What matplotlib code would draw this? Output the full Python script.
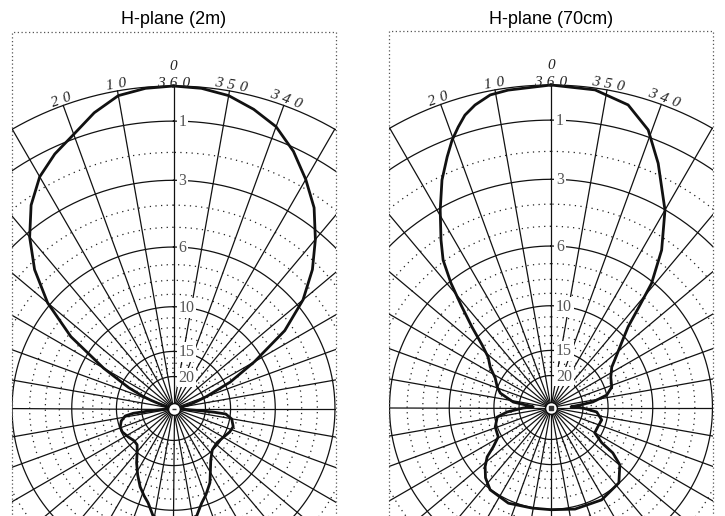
import numpy as np
import matplotlib
matplotlib.use("Agg")
import matplotlib.pyplot as plt
from matplotlib.patches import Rectangle

# H-plane patterns: angle (deg, counter-clockwise from 0) and level (dB)
ang_2m = [0, 5, 10, 15, 20, 25, 30, 35, 40, 45, 50, 55, 60, 65, 68, 70, 72, 76, 88,
          93, 95.2, 96, 96.8, 98.8, 103.4, 109.1, 114.5, 122.1, 129.4, 135, 140, 145.8,
          151.6, 156.9, 161.4, 164.9, 169.2, 180, 192.2, 196.6, 200.6, 206.1, 210.2, 216,
          223.2, 231.6, 240.6, 247.4, 253.1, 259.8, 264, 264.8, 265.2, 265.5, 267, 272,
          280, 283, 285, 288, 290, 295, 300, 305, 310, 315, 320, 325, 330, 335, 340, 345,
          350, 355, 360]
db_2m = [0, -0.03, -0.13, -0.45, -0.87, -1.2, -1.62, -2.27, -3.17, -4.3, -5.85, -8.2,
         -12.0, -16.2, -19.5, -22.5, -27.0, -34.0, -40.0,
         -35.0, -25.8, -21.0, -17.96, -16.35, -15.53, -15.11, -15.11, -15.57, -15.99,
         -15.9, -15.09, -13.79, -12.6, -11.55, -10.86, -10.36, -9.39, -8.6, -9.34, -10.27,
         -10.86, -11.79, -12.84, -14.09, -15.06, -15.28, -14.9, -14.44, -14.23, -14.69,
         -15.72, -18.0, -21.0, -25.8, -34.0, -40.0,
         -34.0, -27.0, -24.4, -21.3, -19.2, -14.2, -10.75, -7.5, -5.6, -4.3, -3.29, -2.38,
         -1.72, -1.11, -0.63, -0.35, -0.13, -0.03, 0]

ang_70 = [0, 7.7, 11, 14.1, 16.4, 18.3, 20.3, 22.5, 25.6, 29.3, 33.3, 36.2, 38.8, 41.3,
          44.5, 47.8, 51.3, 56.4, 62.2, 69.2, 74.1, 81.8, 85.9, 88, 91, 95.8, 100, 109.2,
          119.1, 124.3, 127.7, 131.9, 137, 143.5, 156, 169.2, 180, 193.3, 208.7, 222,
          230.2, 233.7, 235.2, 239.9, 247.5, 256.2, 264.4, 269.1, 272, 274.9, 277.5, 282.6,
          288.6, 296.9, 303.6, 307.8, 312.7, 316.3, 319, 321, 324.9, 330, 336.3, 340.7,
          345.7, 352.1, 360]
db_70 = [0, -0.06, -0.11, -0.29, -0.49, -0.76, -1.07, -1.5, -2.13, -3.07, -4.13, -4.93,
         -6.1, -7.47, -9.12, -10.79, -12.03, -12.88, -14.14, -14.94, -15.68, -18.49, -23.7,
         -25.0, -21.2, -17.25, -15.39, -14.71, -14.51, -13.25, -12.01, -11.21, -10.5, -9.95,
         -9.75, -9.95, -9.96, -9.78, -9.7, -10.03, -11.1, -12.45, -14.3, -16.05, -16.04,
         -15.77, -16.88, -20.07, -24.0, -20.9, -17.63, -14.99, -14.0, -13.61, -12.88,
         -11.86, -10.47, -9.2, -7.52, -6.09, -4.48, -3.01, -1.65, -0.8, -0.28, -0.05, 0]

titles = ["H-plane (2m)", "H-plane (70cm)"]
solid_rings = [0, -1, -3, -6, -10, -15, -20]
dotted_rings = [-2, -4, -5, -7, -8, -9, -11, -12, -13, -14, -16, -17, -18, -19]
ring_labels = ["1", "3", "6", "10", "15", "20"]
spoke_angles = [0, 10, 20, 350, 340]
spoke_texts = ["360", "10", "20", "350", "340"]

W, H = 725, 516
R = 322.5          # pixel radius of the 0 dB ring
RMIN = -60
GAP = "\u2004"     # letter spacing used on the rim labels

fig = plt.figure(figsize=(W / 100, H / 100), dpi=100)


def to_v(db):
    return 10 ** (np.asarray(db, dtype=float) / 20.0)


def from_v(v):
    return 20 * np.log10(np.clip(np.asarray(v, dtype=float), 1e-9, None))


def px_db(px):
    # level just outside the 0 dB ring, px pixels away
    return 20 * np.log10(1 + px / R)


def panel(cx, cy, box, ang, db, title, dot):
    ax = fig.add_axes([(cx - R) / W, (H - cy - R) / H, 2 * R / W, 2 * R / H],
                      projection="polar")
    ax.set_theta_zero_location("N")
    ax.set_theta_direction(1)
    ax.set_rscale("function", functions=(to_v, from_v))
    ax.set_rlim(RMIN, 0)
    ax.axis("off")

    clip = Rectangle((box[0] / W, -0.1), (box[1] - box[0]) / W, (H - box[2]) / H + 0.1,
                     transform=fig.transFigure)
    arts = []
    th = np.linspace(0, 2 * np.pi, 721)
    for lv in solid_rings:
        arts += ax.plot(th, np.full_like(th, lv), color="#111111", lw=0.9)
    for lv in dotted_rings:
        arts += ax.plot(th, np.full_like(th, lv), color="#222222", lw=0.9,
                        ls=(0, (1, 3.5)))
    for a in range(0, 360, 10):
        arts += ax.plot([np.deg2rad(a)] * 2, [RMIN, 0], color="#111111", lw=0.9)

    arts += ax.plot(np.deg2rad(ang), db, color="#111111", lw=2.0, zorder=3,
                    solid_joinstyle="round")
    for a in arts:
        a.set_clip_path(clip)

    # centre hub
    ax.plot([0], [RMIN], marker="o", ms=8.5, mfc="white", mec="#111111", mew=1.0,
            zorder=5, clip_on=False)
    ax.plot([0], [RMIN], marker=dot, ms=2.5, mfc="#333333", mec="#333333", mew=1.0,
            zorder=6, clip_on=False)

    # ring values along the 0 line
    for lbl in ring_labels:
        ax.annotate(lbl, xy=(0, -float(lbl)), xytext=(5, -1), textcoords="offset pixels",
                    ha="left", va="center", fontsize=11.5, color="#555555",
                    family="Liberation Serif",
                    bbox=dict(boxstyle="square,pad=0.12", fc="white", ec="none"),
                    zorder=7)

    # angle labels around the rim
    for a, s in zip(spoke_angles, spoke_texts):
        off = 2.5 if a == 0 else 6
        rot = a if a < 180 else a - 360
        ax.text(np.deg2rad(a), px_db(off), GAP.join(s), rotation=rot,
                rotation_mode="anchor", ha="center", va="center", fontsize=11,
                style="italic", family=["Liberation Serif", "DejaVu Serif"],
                color="#222222", zorder=7)
    ax.text(0, px_db(19), "0", ha="center", va="center", fontsize=11, style="italic",
            family="Liberation Serif", color="#222222")

    fig.add_artist(Rectangle((box[0] / W, -0.1), (box[1] - box[0]) / W,
                             (H - box[2]) / H + 0.1, transform=fig.transFigure,
                             fill=False, ec="#555555", lw=0.9, ls=(0, (1, 2))))
    fig.text(cx / W, 1 - 23.5 / H, title, ha="center", va="baseline", fontsize=13,
             family="Liberation Sans")


panel(173.5, 408.5, (11.7, 336.0, 31.5), ang_2m, db_2m, titles[0], "_")
panel(551.0, 407.5, (389.0, 713.0, 31.0), ang_70, db_70, titles[1], "s")

fig.savefig("out.png", dpi=100)
